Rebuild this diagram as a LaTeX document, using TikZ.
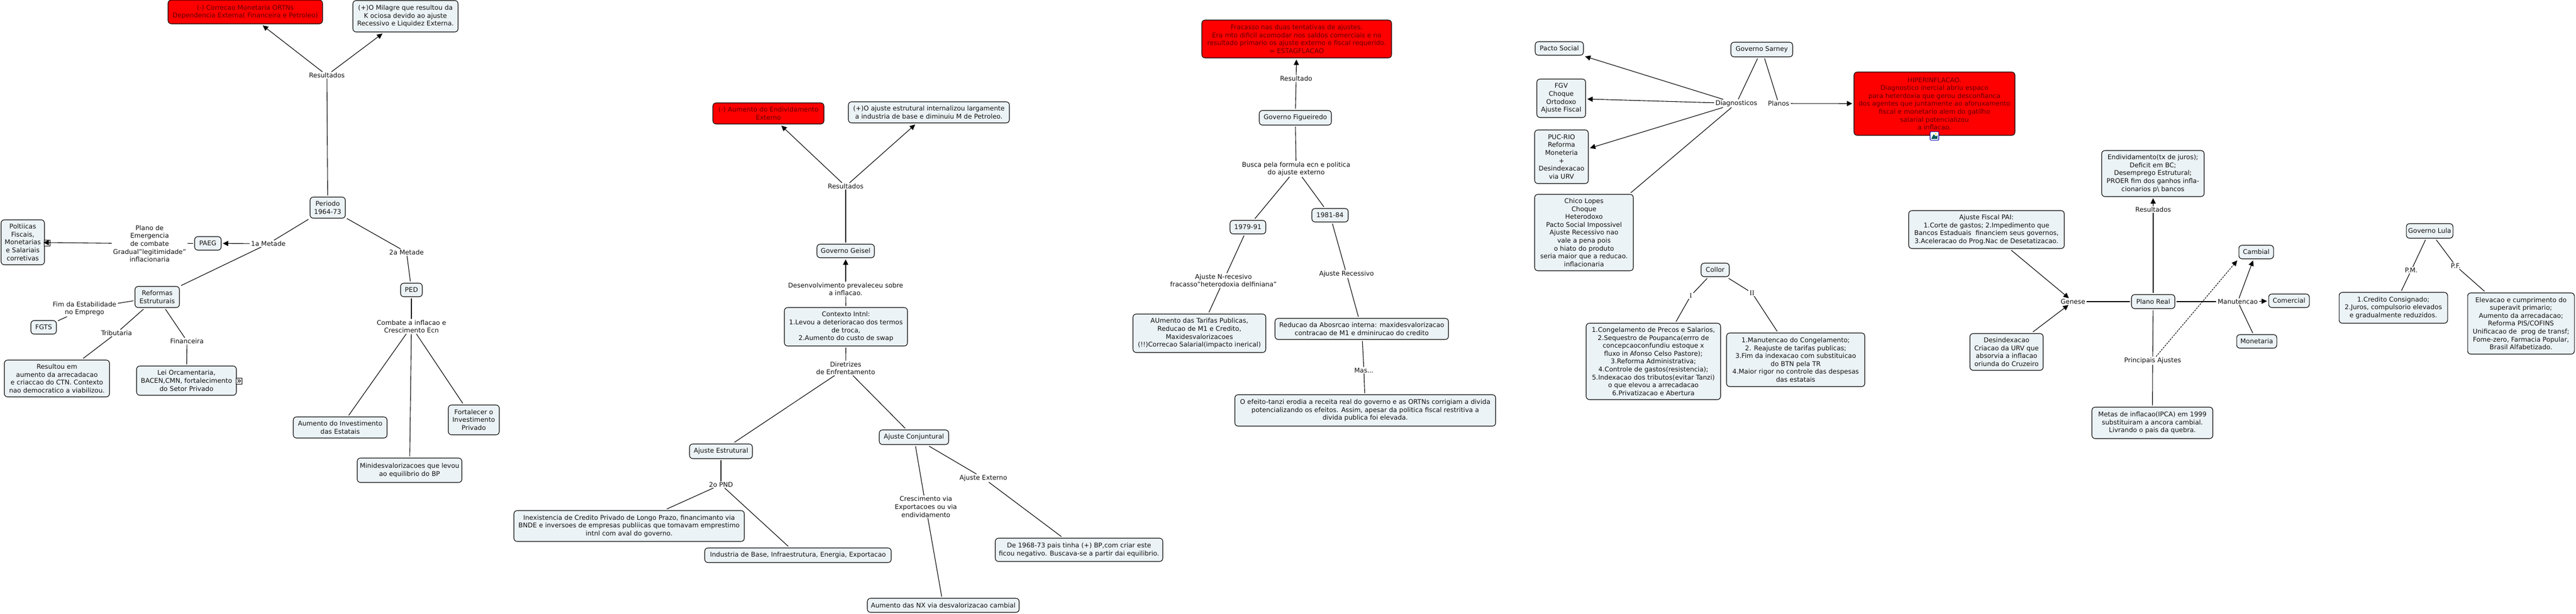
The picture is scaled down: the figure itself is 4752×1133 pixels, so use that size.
\documentclass[tikz,border=0pt]{standalone}
\usepackage{fontspec}
\setmainfont{DejaVu Sans}
\newfontfamily\serfam{Liberation Serif}
\usetikzlibrary{arrows.meta}
\definecolor{boxfill}{HTML}{ECF3F6}
\definecolor{redtext}{HTML}{640000}
\definecolor{inktext}{HTML}{101010}
\tikzset{
  txt/.style={font=\fontsize{12}{14.6}\selectfont,align=center,text=inktext},
  cbox/.style={txt,draw=black,line width=1.1pt,fill=boxfill,rounded corners=6pt,inner sep=0pt,outer sep=3pt},
  redbox/.style={cbox,fill=red,text=redtext},
  lab/.style={txt,inner xsep=2.5pt,inner ysep=1.5pt},
  serlab/.style={lab,font=\fontsize{13}{14.6}\serfam},
  lin/.style={line width=1.1pt,draw=black},
  arr/.style={lin,-{Triangle[length=10pt,width=9.5pt]}},
  dsh/.style={arr,dashed,dash pattern=on 3pt off 2pt},
  iconbox/.style={draw=black,line width=0.9pt,fill=white,minimum size=11pt,inner sep=0pt}
}
\newcommand{\mybox}[7][cbox]{%
  \pgfmathsetmacro\mbw{#5-#3}\pgfmathsetmacro\mbh{#6-#4}%
  \node[#1,minimum width=\mbw pt,minimum height=\mbh pt] (#2) at ({(#3+#5)/2},{(#4+#6)/2}) {#7};}
\newcommand{\mylab}[4]{\node[lab] (#1) at (#2,#3) {#4};}
\begin{document}
\begin{tikzpicture}[x=1pt,y=-1pt]
\useasboundingbox (0,0) rectangle (4752,1133);
\fill[white] (0,0) rectangle (4752,1133);
% ---------- Periodo 1964-73
\mybox[redbox]{ra}{310}{0}{595}{44}{(-) Correcao Monetaria ORTNs\\Dependencia Externa( Financeira e Petroleo)}
\mybox{mil}{651}{1}{845}{59}{(+)O Milagre que resultou da\\K ociosa devido ao ajuste\\Recessivo e Liquidez Externa.}
\mylab{resa}{603}{139}{Resultados}
\mybox{per}{572}{364}{637}{403}{Periodo\\1964-73}
\mybox{pol}{2}{406}{82}{489}{Poltiicas\\Fiscais,\\Monetarias\\e Salariais\\corretivas}
\node[iconbox] (polic) at (87,448.5) {};
\mylab{plano}{276}{450}{Plano de\\Emergencia\\de combate\\Gradual"legitimidade"\\inflacionaria}
\mybox{paeg}{359}{437}{408}{462}{PAEG}
\mylab{ma}{495}{450}{1a Metade}
\mybox{ref}{249}{529}{331}{568}{Reformas\\Estruturais}
\mylab{fim}{156}{570}{Fim da Estabilidade\\no Emprego}
\mybox{fgts}{57}{592}{104}{617}{FGTS}
\mylab{trib}{215}{615}{Tributaria}
\mybox{resu}{8}{665}{202}{733}{Resultou em\\aumento da arrecadacao\\e criaccao do CTN. Contexto\\nao democratico a viabilizou.}
\mylab{fin}{345}{630}{Financeira}
\mybox{lei}{252}{676}{436}{730}{Lei Orcamentaria,\\BACEN,CMN, fortalecimento\\do Setor Privado}
\node[iconbox] (leiic) at (441,703.5) {};
\draw[line width=1pt] ([shift={(-3,-3)}]leiic.center) -- ([shift={(0,0)}]leiic.center) -- ([shift={(-3,3)}]leiic.center);
\draw[line width=1pt] ([shift={(0,-3)}]leiic.center) -- ([shift={(3,0)}]leiic.center) -- ([shift={(0,3)}]leiic.center);
\mylab{mb}{750}{466}{2a Metade}
\mybox{ped}{739}{523}{779}{548}{PED}
\mylab{comb}{759}{603}{Combate a inflacao e\\Crescimento Ecn}
\mybox{aum}{541}{770}{714}{809}{Aumento do Investimento\\das Estatais}
\mybox{fort}{827}{748}{921}{803}{Fortalecer o\\Investimento\\Privado}
\mybox{mini}{659}{846}{852}{891}{Minidesvalorizacoes que levou\\ao equilibrio do BP}
\draw[lin] (per) -- (ma);
\draw[lin] (per) -- (mb);
\draw[lin] (per) -- (resa);
\draw[arr] (resa) -- (ra);
\draw[arr] (resa) -- (mil);
\draw[arr] (ma) -- (paeg);
\draw[lin] (paeg) -- (plano);
\draw[arr,shorten >=-5pt] (plano) -- (pol);
\draw[lin] (ma) -- (ref);
\draw[lin] (ref) -- (fim);
\draw[lin] (fim) -- (fgts);
\draw[lin] (ref) -- (trib);
\draw[lin] (trib) -- (resu);
\draw[lin] (ref) -- (fin);
\draw[lin] (fin) -- (lei);
\draw[lin] (mb) -- (ped);
\draw[lin] (ped) -- (comb);
\draw[lin] (comb) -- (aum);
\draw[lin] (comb) -- (fort);
\draw[lin] (comb) -- (mini);
% ---------- Governo Geisel
\mybox[redbox]{rb}{1315}{190}{1520}{229}{(-) Aumento do Endividamento\\Externo}
\mybox{ajint}{1565}{188}{1862}{227}{(+)O ajuste estrutural internalizou largamente\\a industria de base e diminuiu M de Petroleo.}
\mylab{resb}{1560}{344}{Resultados}
\mybox{gei}{1507}{451}{1613}{476}{Governo Geisel}
\mylab{des}{1560}{534}{Desenvolvimento prevaleceu sobre\\a inflacao.}
\mybox{ctx}{1447}{568}{1674}{639}{Contexto Intnl:\\1.Levou a deterioracao dos termos\\de troca,\\2.Aumento do custo de swap}
\mylab{dir}{1560}{680}{Diretrizes\\de Enfrentamento}
\mybox{est}{1272}{820}{1388}{847}{Ajuste Estrutural}
\mybox{con}{1622}{794}{1750}{821}{Ajuste Conjuntural}
\mylab{pnd}{1330}{895}{2o PND}
\mybox{ine}{948}{943}{1373}{1000}{Inexistencia de Credito Privado de Longo Prazo, financimanto via\\BNDE e inversoes de empresas publiicas que tomavam emprestimo\\intnl com aval do governo.}
\mybox{ind}{1300}{1012}{1644}{1039}{Industria de Base, Infraestrutura, Energia, Exportacao}
\mylab{cres}{1708}{936}{Crescimento via\\Exportacoes ou via\\endividamento}
\mylab{ext}{1814}{883}{Ajuste Externo}
\mybox{de}{1836}{994}{2145}{1037}{De 1968-73 pais tinha (+) BP,com criar este\\ficou negativo. Buscava-se a partir dai equilibrio.}
\mybox{nx}{1600}{1105}{1880}{1131}{Aumento das NX via desvalorizacao cambial}
\draw[arr] (resb) -- (rb);
\draw[arr] (resb) -- (ajint);
\draw[lin] (resb) -- (gei);
\draw[arr] (des) -- (gei);
\draw[lin] (ctx) -- (des);
\draw[lin] (ctx) -- (dir);
\draw[lin] (dir) -- (est);
\draw[lin] (dir) -- (con);
\draw[lin] (est) -- (pnd);
\draw[lin] (pnd) -- (ine);
\draw[lin] (pnd) -- (ind);
\draw[lin] (con) -- (cres);
\draw[lin] (cres) -- (nx);
\draw[lin] (con) -- (ext);
\draw[lin] (ext) -- (de);
% ---------- Governo Figueiredo
\mybox[redbox]{rc}{2217}{37}{2567}{107}{Fracasso nas duas tentativas de ajustes.\\Era mto dificil acomodar nos saldos comerciais e no\\resultado primario os ajuste externo e fiscal requerido.\\= ESTAGFLACAO}
\mylab{resc}{2391}{145}{Resultado}
\mybox{fig}{2323}{204}{2456}{231}{Governo Figueiredo}
\mylab{bus}{2391}{312}{Busca pela formula ecn e politica\\do ajuste externo}
\mybox{sn}{2269}{407}{2335}{432}{1979-91}
\mybox{oe}{2420}{385}{2487}{410}{1981-84}
\mylab{nrec}{2257}{518}{Ajuste N-recesivo\\fracasso"heterodoxia delfiniana"}
\mylab{rec}{2484}{506}{Ajuste Recessivo}
\mybox{tar}{2090}{580}{2335}{651}{AUmento das Tarifas Publicas,\\Reducao de M1 e Credito,\\Maxidesvalorizacoes\\(!!)Correcao Salarial(impacto inerical)}
\mybox{redu}{2352}{588}{2672}{627}{Reducao da Abosrcao interna: maxidesvalorizacao\\contracao de M1 e dminirucao do credito}
\mylab{mas}{2516}{684}{Mas...}
\mybox{efe}{2278}{729}{2759}{787}{O efeito-tanzi erodia a receita real do governo e as ORTNs corrigiam a divida\\potencializando os efeitos. Assim, apesar da politica fiscal restritiva a\\divida publica foi elevada.}
\draw[lin] (fig) -- (resc);
\draw[arr] (resc) -- (rc);
\draw[lin] (fig) -- (bus);
\draw[lin] (bus) -- (sn);
\draw[lin] (bus) -- (oe);
\draw[lin] (sn) -- (nrec);
\draw[lin] (nrec) -- (tar);
\draw[lin] (oe) -- (rec);
\draw[lin] (rec) -- (redu);
\draw[lin] (redu) -- (mas);
\draw[lin] (mas) -- (efe);
% ---------- Governo Sarney
\mybox{pac}{2832}{77}{2921}{102}{Pacto Social}
\mybox{sar}{3193}{78}{3307}{105}{Governo Sarney}
\mybox{fgv}{2835}{146}{2925}{217}{FGV\\Choque\\Ortodoxo\\Ajuste Fiscal}
\mybox{puc}{2831}{240}{2930}{339}{PUC-RIO\\Reforma\\Moneteria\\+\\Desindexacao\\via URV}
\mybox{chi}{2831}{359}{3013}{500}{Chico Lopes\\Choque\\Heterodoxo\\Pacto Social Impossivel\\Ajuste Recessivo nao\\vale a pena pois\\o hiato do produto\\seria maior que a reducao.\\inflacionaria}
\mybox[redbox]{hip}{3420}{133}{3717}{250}{HIPERINFLACAO.\\Diagnostico inercial abriu espaco\\para heterdoxia que gerou desconfianca\\dos agentes que juntamente ao aforuxamento\\fiscal e monetario alem do gatilho\\salarial potencializou\\a inflacao.}
\mylab{dia}{3203}{191}{Diagnosticos}
\mylab{pla}{3281}{191}{Planos}
\draw[lin] (sar) -- (dia);
\draw[lin] (sar) -- (pla);
\draw[arr] (pla) -- (hip);
\draw[arr] (dia) -- (pac);
\draw[arr] (dia) -- (fgv);
\draw[arr] (dia) -- (puc);
\draw[lin] (dia) -- (chi);
% image icon
\begin{scope}
\filldraw[draw=blue!70!black,line width=1pt,fill=white,rounded corners=1.5pt] (3560.5,243) rectangle (3576.5,259);
\fill[teal!70!black] (3563,255.5) -- (3567,248) -- (3571,252) -- (3574,250) -- (3574,256.5) -- (3563,256.5) -- cycle;
\fill[yellow!80!orange] (3571,247) circle (1.6pt);
\end{scope}
% ---------- Collor
\mybox{col}{3138}{486}{3190}{511}{Collor}
\node[serlab] (ci) at (3119,546) {I};
\node[serlab] (cii) at (3232,541) {II};
\mybox{coi}{2926}{597}{3174}{738}{1.Congelamento de Precos e Salarios,\\2.Sequestro de Poupanca(errro de\\concepcaoconfundiu estoque x\\fluxo in Afonso Celso Pastore);\\3.Reforma Administrativa;\\4.Controle de gastos(resistencia);\\5.Indexacao dos tributos(evitar Tanzi)\\o que elevou a arrecadacao\\6.Privatizacao e Abertura}
\mybox{coii}{3185}{615}{3440}{714}{1.Manutencao do Congelamento;\\2. Reajuste de tarifas publicas;\\3.Fim da indexacao com substituicao\\do BTN pela TR\\4.Maior rigor no controle das despesas\\das estatais}
\draw[lin] (col) -- (ci);
\draw[lin] (ci) -- (coi);
\draw[lin] (col) -- (cii);
\draw[lin] (cii) -- (coii);
% ---------- Plano Real
\mybox{endi}{3877}{278}{4066}{363}{Endividamento(tx de juros);\\Deficit em BC;\\Desemprego Estrutural;\\PROER fim dos ganhos infla-\\cionarios p\textbackslash{} bancos}
\mylab{resd}{3972}{387}{Resultados}
\mybox{ajf}{3521}{389}{3808}{459}{Ajuste Fiscal PAI:\\1.Corte de gastos; 2.Impedimento que\\Bancos Estaduais\ \ financiem seus governos,\\3.Aceleracao do Prog.Nac de Desetatizacao.}
\mylab{gen}{3824}{557}{Genese}
\mybox{real}{3932}{544}{4012}{570}{Plano Real}
\mybox{dsx}{3634}{616}{3769}{684}{Desindexacao\\Criacao da URV que\\absorvia a inflacao\\oriunda do Cruzeiro}
\mylab{pri}{3971}{666}{Principais Ajustes}
\mybox{met}{3859}{752}{4082}{810}{Metas de inflacao(IPCA) em 1999\\substituiram a ancora cambial.\\Livrando o pais da quebra.}
\mylab{man}{4128}{557}{Manutencao}
\mybox{cam}{4130}{453}{4194}{478}{Cambial}
\mybox{com}{4185}{543}{4260}{568}{Comercial}
\mybox{mon}{4126}{618}{4200}{643}{Monetaria}
\draw[lin] (real) -- (resd);
\draw[arr] (resd) -- (endi);
\draw[arr] (ajf) -- (gen);
\draw[arr] (dsx) -- (gen);
\draw[lin] (real) -- (gen);
\draw[lin] (real) -- (man);
\draw[lin] (real) -- (pri);
\draw[lin] (pri) -- (met);
\draw[dsh] (pri) -- (cam.south west);
\draw[arr] (man) -- (cam);
\draw[arr] (man) -- (com);
\draw[lin] (mon) -- (man);
% ---------- Governo Lula
\mybox{lula}{4439}{413}{4525}{440}{Governo Lula}
\mylab{pm}{4448}{499}{P.M.}
\mylab{pf}{4530}{491}{P.F.}
\mybox{cred}{4315}{540}{4515}{597}{1.Credito Consignado;\\2.Juros, compulsorio elevados\\e gradualmente reduzidos.}
\mybox{elev}{4552}{541}{4749}{654}{Elevacao e cumprimento do\\superavit primario;\\Aumento da arrecadacao;\\Reforma PIS/COFINS\\Unificacao de\ \ prog de transf;\\Fome-zero, Farmacia Popular,\\Brasil Alfabetizado.}
\draw[lin] (lula) -- (pm);
\draw[lin] (pm) -- (cred);
\draw[lin] (lula) -- (pf);
\draw[lin] (pf) -- (elev);
\end{tikzpicture}
\end{document}
